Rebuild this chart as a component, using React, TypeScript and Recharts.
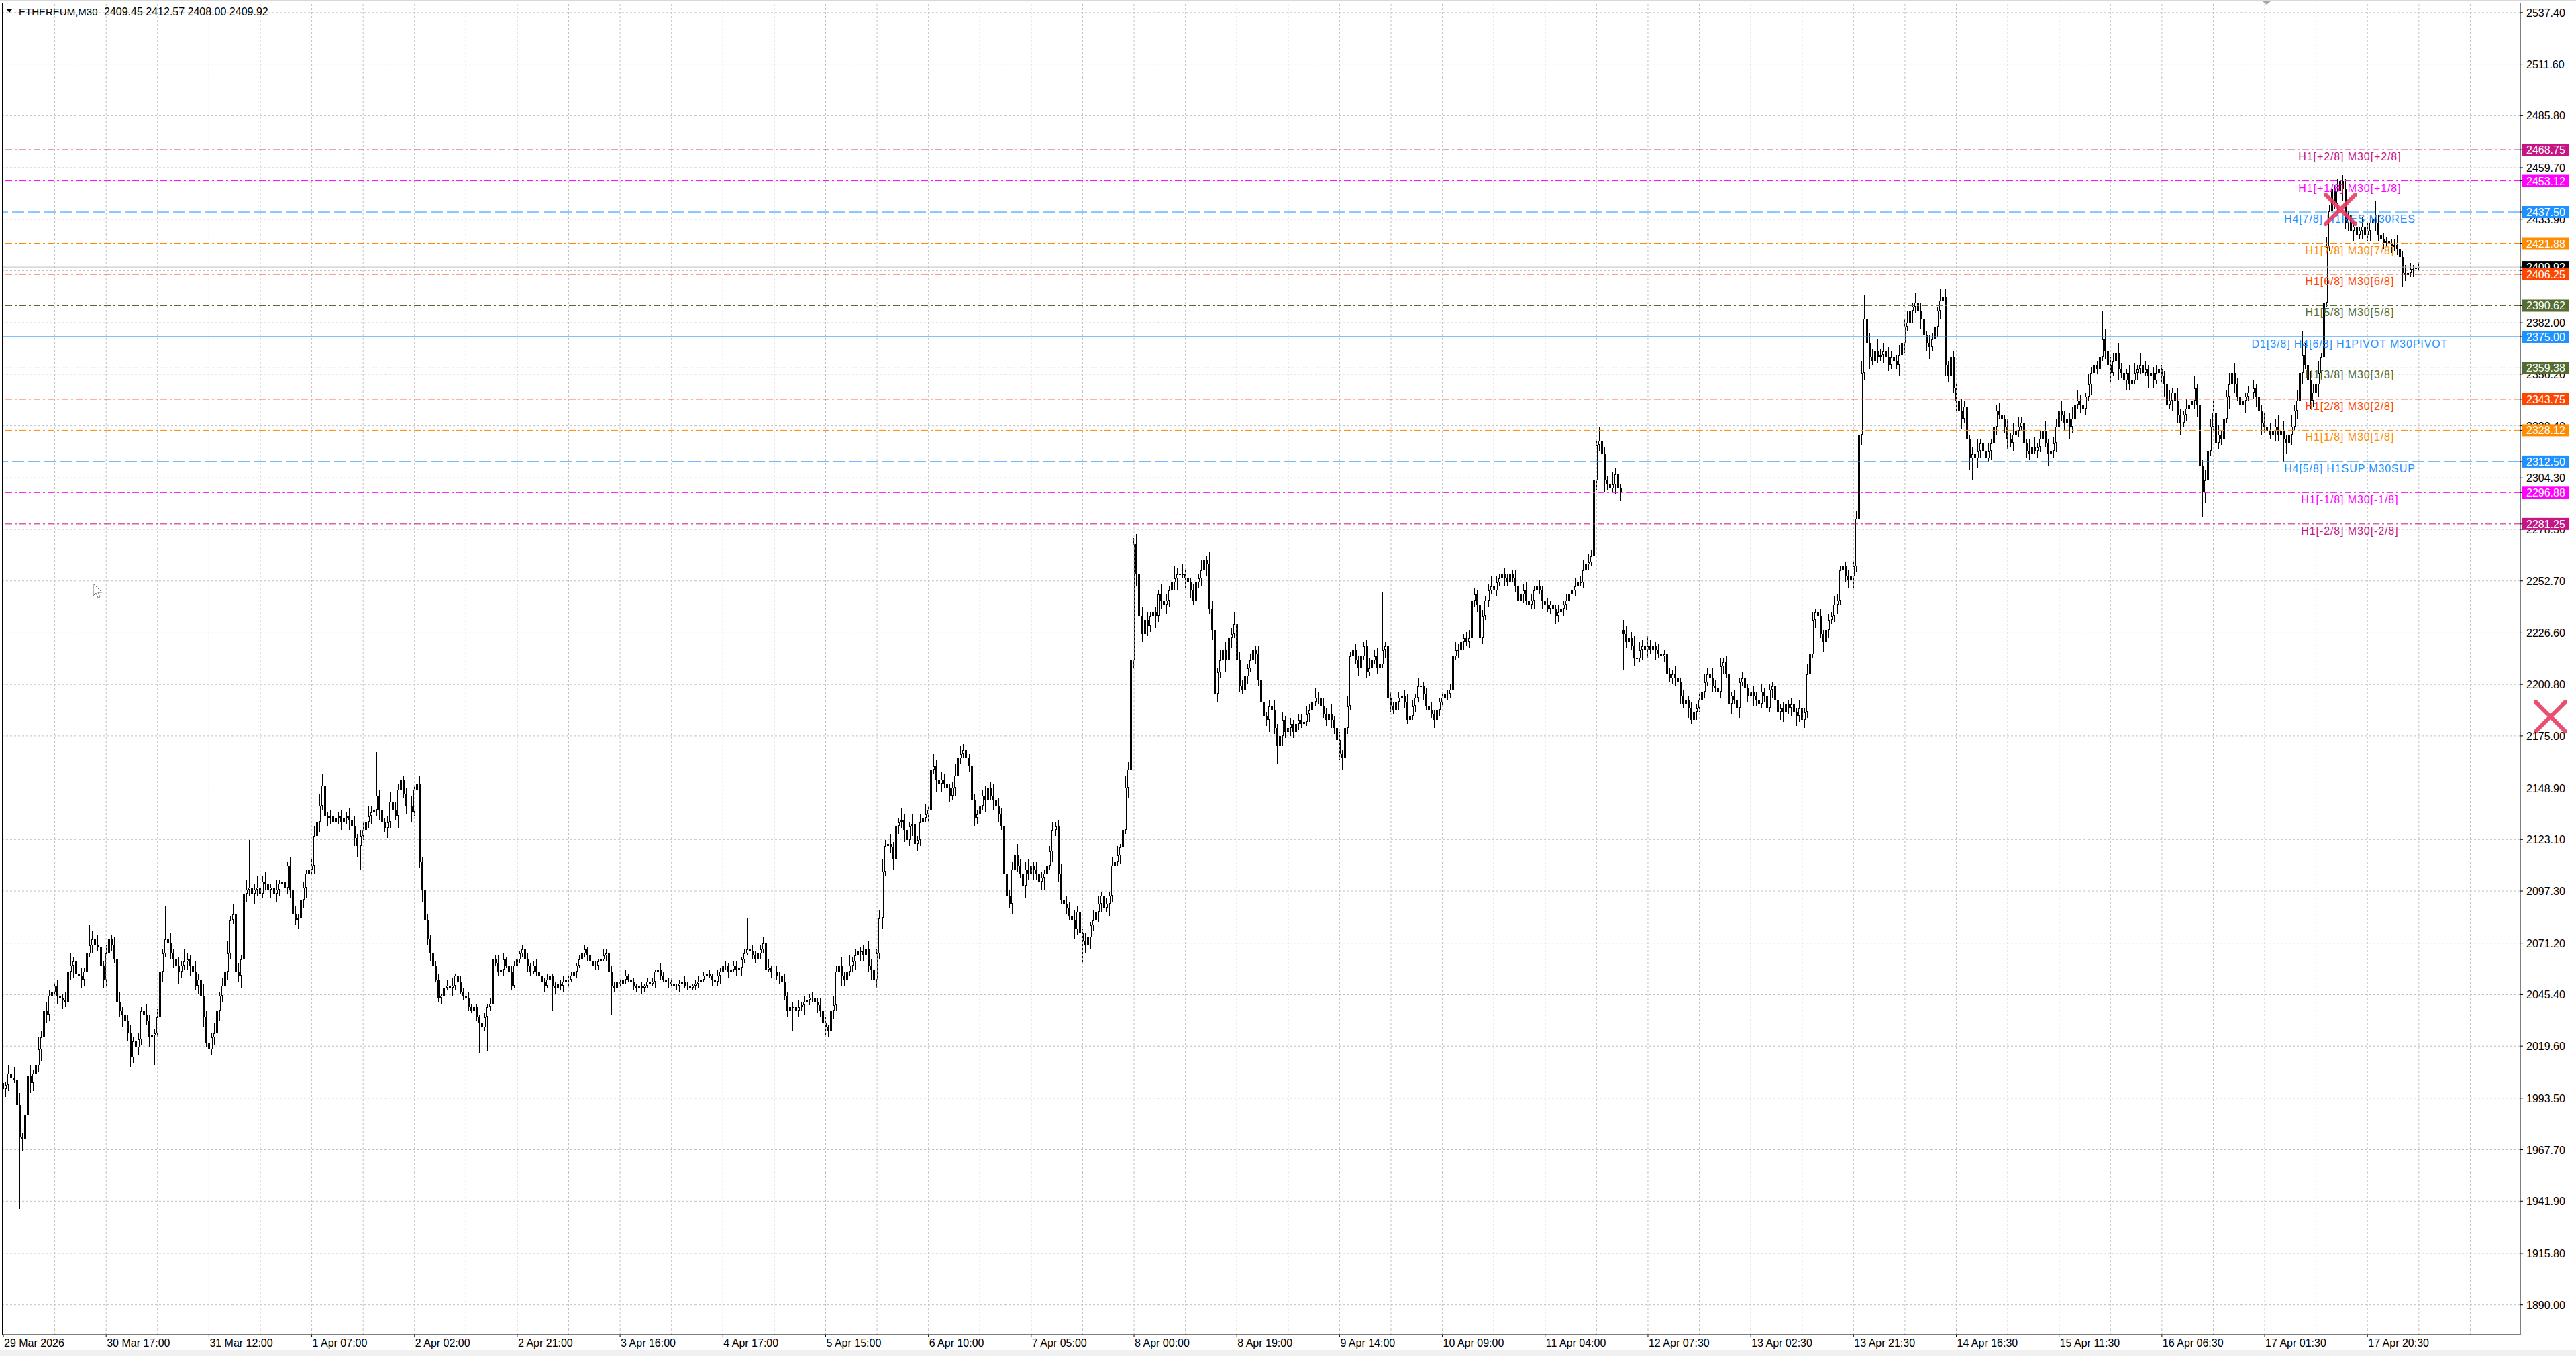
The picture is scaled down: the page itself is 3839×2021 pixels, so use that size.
import React from "react";
import {
  Bar,
  CartesianGrid,
  ComposedChart,
  ReferenceDot,
  ReferenceLine,
  XAxis,
  YAxis,
} from "recharts";

const FONT = "'Liberation Sans', Arial, sans-serif";
const W = 3839;
const H = 2021;
// 894 bars, the rest of the slots are the empty chart shift on the right
const SLOTS = 931;

// closes, one per M30 bar (29 Mar 22:00 .. 4 Apr)
const closesPart1 = [
  1998, 2000, 2006, 2004, 2003, 1990, 1974, 1973, 1985, 2005, 2001, 2006, 2010, 2018, 2024, 2037, 2035, 2045, 2047, 2050,
  2045, 2044, 2043, 2042, 2057, 2060, 2062, 2056, 2055, 2053, 2057, 2066, 2070, 2073, 2070, 2069, 2060, 2053, 2066, 2073,
  2070, 2063, 2042, 2037, 2035, 2032, 2026, 2014, 2022, 2019, 2023, 2037, 2035, 2032, 2024, 2025, 2026, 2034, 2057, 2066,
  2073, 2071, 2066, 2063, 2060, 2057, 2060, 2062, 2063, 2060, 2057, 2050, 2053, 2045, 2034, 2021, 2018, 2024, 2026, 2037,
  2045, 2050, 2057, 2066, 2083, 2086, 2057, 2055, 2063, 2096, 2098, 2099, 2096, 2098, 2099, 2096, 2102, 2101, 2098, 2099,
  2096, 2098, 2101, 2102, 2099, 2110, 2098, 2086, 2083, 2084, 2093, 2099, 2106, 2108, 2110, 2125, 2132, 2140, 2150, 2135,
  2134, 2135, 2132, 2134, 2135, 2132, 2134, 2135, 2133, 2130, 2124, 2120, 2125, 2128, 2132, 2135, 2137, 2138, 2145, 2138,
  2132, 2129, 2132, 2142, 2138, 2135, 2148, 2153, 2146, 2140, 2140, 2137, 2148, 2151, 2112, 2098, 2083, 2073, 2066, 2060,
  2053, 2044, 2045, 2049, 2050, 2049, 2050, 2055, 2052, 2047, 2045, 2044, 2039, 2037, 2039, 2034, 2031, 2029, 2034, 2039,
  2041, 2063, 2061, 2057, 2058, 2063, 2060, 2057, 2050, 2060, 2063, 2066, 2068, 2063, 2060, 2057, 2060, 2057, 2055, 2052,
  2050, 2053, 2055, 2050, 2049, 2051, 2050, 2052, 2053, 2053, 2055, 2057, 2060, 2063, 2066, 2068, 2065, 2062, 2060, 2060,
  2062, 2063, 2065, 2066, 2057, 2050, 2049, 2052, 2051, 2053, 2055, 2053, 2052, 2050, 2049, 2050, 2049, 2050, 2052, 2051,
  2052, 2057, 2058, 2055, 2053, 2052, 2052, 2051, 2050, 2050, 2051, 2052, 2050, 2050, 2049, 2050, 2051, 2052, 2053, 2055,
  2056, 2055, 2053, 2052, 2055, 2057, 2060, 2060, 2057, 2058, 2060, 2058, 2059, 2063, 2066, 2068, 2067, 2065, 2063, 2066,
  2068, 2071, 2058, 2059, 2057, 2057, 2055, 2055, 2052, 2045, 2037, 2039, 2039, 2037, 2039, 2040, 2042, 2043, 2044, 2044,
  2042, 2040, 2037, 2031, 2029, 2027, 2037, 2040, 2057, 2060, 2055, 2053, 2057, 2060, 2062, 2065, 2067, 2067, 2065, 2068,
  2060, 2058, 2053, 2066, 2084, 2107, 2120,
];

// 5 Apr .. 11 Apr
const closesPart2 = [
  2121, 2119, 2113, 2130, 2132, 2133, 2128, 2123, 2130, 2131, 2121, 2123, 2132, 2134, 2136, 2138, 2158, 2160, 2153, 2151,
  2153, 2151, 2149, 2145, 2149, 2155, 2164, 2166, 2168, 2164, 2160, 2143, 2134, 2136, 2140, 2145, 2143, 2149, 2145, 2143,
  2140, 2136, 2130, 2106, 2095, 2091, 2108, 2115, 2110, 2106, 2100, 2108, 2106, 2110, 2108, 2106, 2102, 2104, 2106, 2110,
  2117, 2128, 2130, 2106, 2093, 2091, 2089, 2085, 2083, 2078, 2087, 2076, 2072, 2070, 2074, 2080, 2083, 2087, 2091, 2095,
  2089, 2091, 2095, 2110, 2112, 2115, 2119, 2128, 2149, 2158, 2213, 2271, 2256, 2235, 2226, 2233, 2230, 2235, 2237, 2235,
  2246, 2243, 2241, 2243, 2248, 2252, 2254, 2256, 2256, 2256, 2254, 2252, 2248, 2243, 2252, 2254, 2258, 2263, 2261, 2239,
  2228, 2196, 2207, 2213, 2218, 2213, 2224, 2226, 2231, 2213, 2200, 2198, 2205, 2209, 2213, 2218, 2216, 2203, 2192, 2185,
  2183, 2190, 2188, 2179, 2170, 2175, 2183, 2177, 2179, 2181, 2177, 2181, 2183, 2181, 2182, 2186, 2188, 2192, 2194, 2194,
  2190, 2186, 2183, 2186, 2183, 2179, 2173, 2166, 2164, 2179, 2190, 2215, 2218, 2213, 2209, 2215, 2220, 2207, 2209, 2213,
  2215, 2209, 2211, 2218, 2220, 2194, 2190, 2188, 2192, 2194, 2195, 2192, 2183, 2185, 2190, 2194, 2200, 2200, 2196, 2190,
  2188, 2186, 2183, 2188, 2192, 2194, 2196, 2196, 2198, 2215, 2218, 2218, 2222, 2224, 2222, 2224, 2243, 2246, 2241, 2224,
  2235, 2243, 2248, 2250, 2248, 2252, 2254, 2256, 2254, 2252, 2256, 2254, 2250, 2243, 2246, 2248, 2243, 2241, 2243, 2248,
  2250, 2248, 2243, 2241, 2239, 2241, 2239, 2235, 2237, 2239, 2241, 2243, 2246, 2248, 2250, 2252, 2252, 2258, 2261, 2262,
  2265, 2303, 2321, 2323, 2316, 2303, 2301, 2299, 2301, 2306, 2299, 2297,
];

// 12 Apr 07:30 .. 18 Apr (after the weekend gap)
const closesPart3 = [
  2226, 2222, 2224, 2220, 2214, 2214, 2218, 2220, 2218, 2220, 2218, 2220, 2218, 2216, 2215, 2216, 2206, 2204, 2206, 2204,
  2202, 2195, 2191, 2193, 2189, 2183, 2187, 2189, 2193, 2197, 2202, 2206, 2204, 2200, 2199, 2197, 2210, 2212, 2206, 2191,
  2195, 2193, 2189, 2202, 2204, 2199, 2195, 2197, 2195, 2193, 2191, 2197, 2195, 2189, 2198, 2200, 2193, 2187, 2189, 2187,
  2191, 2189, 2191, 2187, 2185, 2189, 2183, 2187, 2206, 2216, 2233, 2237, 2235, 2226, 2222, 2228, 2233, 2235, 2241, 2243,
  2258, 2260, 2255, 2253, 2255, 2260, 2284, 2326, 2357, 2384, 2372, 2365, 2363, 2368, 2365, 2366, 2368, 2365, 2361, 2365,
  2363, 2361, 2366, 2372, 2380, 2382, 2388, 2390, 2392, 2388, 2384, 2376, 2372, 2370, 2374, 2380, 2388, 2393, 2395, 2361,
  2355, 2365, 2349, 2343, 2338, 2334, 2340, 2324, 2314, 2316, 2314, 2318, 2322, 2318, 2314, 2318, 2322, 2330, 2338, 2336,
  2334, 2330, 2324, 2322, 2326, 2328, 2330, 2332, 2322, 2318, 2316, 2320, 2318, 2320, 2324, 2328, 2322, 2316, 2318, 2322,
  2330, 2338, 2336, 2332, 2334, 2330, 2334, 2341, 2343, 2341, 2339, 2345, 2351, 2357, 2361, 2359, 2365, 2374, 2368, 2361,
  2357, 2363, 2367, 2359, 2357, 2353, 2357, 2351, 2353, 2357, 2359, 2361, 2357, 2359, 2355, 2357, 2353, 2357, 2359, 2355,
  2351, 2341, 2343, 2347, 2343, 2336, 2332, 2336, 2339, 2341, 2343, 2349, 2341, 2310, 2297, 2303, 2318, 2330, 2337, 2322,
  2326, 2324, 2334, 2345, 2351, 2357, 2351, 2345, 2341, 2343, 2345, 2347, 2347, 2349, 2345, 2338, 2332, 2330, 2328, 2326,
  2328, 2330, 2326, 2328, 2324, 2322, 2326, 2330, 2338, 2343, 2357, 2366, 2361, 2353, 2343, 2347, 2351, 2357, 2365, 2392,
  2420, 2438, 2449, 2442, 2448, 2453, 2449, 2432, 2436, 2428, 2430, 2426, 2428, 2430, 2426, 2428, 2432, 2434, 2432, 2426,
  2424, 2422, 2423, 2422, 2420, 2421, 2419, 2415, 2407, 2406, 2407, 2409, 2409, 2409.45, 2409.92,
];

// upper / lower wick lengths (price units) per bar
const wickHi = [
  3,2,4,2,5,3,6,2,4,3,5,2,4,6,3,2,5,3,4,2, 3,5,2,4,3,6,2,3,5,4,2,3,6,4,2,5,3,2,4,3,
  2,4,3,5,2,6,3,4,2,5,3,2,4,6,3,5,2,4,3,2, 4,3,5,2,3,4,2,6,3,2,4,5,3,2,6,3,4,2,5,3,
  2,4,3,6,2,5,3,4,2,3,5,2,4,3,6,2,3,5,4,2, 3,5,2,4,3,2,6,3,4,2,5,3,2,4,3,5,2,6,3,4,
  2,3,5,4,2,3,6,2,4,3,5,2,3,4,2,5,3,6,2,3, 4,2,3,5,2,4,3,6,2,3,4,5,2,3,4,2,5,3,2,4,
  2,3,1,2,3,2,4,1,2,3,2,1,3,2,4,2,1,3,2,2, 3,1,2,4,2,3,1,2,3,2,4,1,2,2,3,1,2,3,2,1,
  2,3,2,1,2,4,2,3,1,2,2,3,1,2,3,2,1,2,4,2, 1,2,3,2,1,3,2,2,1,2,3,1,2,2,1,3,2,1,2,3,
  2,1,2,3,2,1,2,2,3,1,2,1,3,2,2,1,2,3,1,2, 3,2,1,2,3,2,4,2,1,3,2,2,3,1,2,4,2,3,2,1,
  2,3,2,4,1,2,3,2,3,4,2,1,3,2,4,2,3,1,2,3, 3,2,4,2,3,1,2,5,3,2,4,2,3,5,2,3,4,2,3,2,
  4,3,5,2,4,6,3,2,5,3,4,2,6,3,4,2,5,3,2,4, 3,5,2,4,6,3,2,4,3,5,2,3,6,2,4,3,5,2,4,3,
  2,4,3,5,2,3,6,2,4,3,2,5,3,4,2,6,3,2,4,5, 3,2,4,5,3,2,6,3,4,2,3,5,2,4,3,2,5,3,6,2,
  4,3,2,5,3,4,2,6,3,2,4,3,5,2,3,6,4,2,3,5, 2,5,3,4,2,6,3,2,5,4,3,2,4,6,3,2,5,3,4,2,
  3,4,2,5,3,2,6,4,3,2,5,3,4,2,3,6,2,4,3,5, 2,3,5,2,4,3,6,2,3,4,5,2,3,4,2,5,3,2,4,3,
  3,2,4,3,2,5,3,2,4,3,2,5,2,3,4,2,3,5,2,4, 3,2,4,2,3,5,2,3,4,2,3,2,5,3,2,4,3,2,3,4,
  2,3,2,4,3,2,3,2,4,2,3,2,3,4,2,3,2,4,3,2, 2,3,4,2,3,2,4,3,2,3,5,2,3,2,4,3,2,3,2,4,
  3,2,3,4,2,3,2,5,3,2,4,3,2,3,2,4,3,2,3,2, 3,4,2,3,5,2,4,3,6,2,3,5,4,2,3,6,3,4,2,5,
  4,2,3,5,2,4,3,2,5,3,4,2,3,5,2,4,3,2,4,3, 2,3,4,2,3,5,2,3,2,4,3,2,5,3,2,4,2,3,5,2,
  3,4,2,3,5,2,4,3,2,3,4,2,5,3,2,4,3,2,3,4, 2,3,5,2,4,3,2,5,3,4,2,3,4,2,5,3,2,4,3,2,
  4,2,3,5,2,4,3,6,2,3,5,4,2,6,3,4,2,5,3,4, 3,5,2,4,6,3,2,5,3,4,6,2,4,3,5,2,6,3,4,2,
  5,3,2,4,6,3,5,2,4,3,6,2,3,5,4,2,6,3,4,5, 2,4,3,6,2,5,3,4,2,6,3,5,2,4,3,5,2,6,3,4,
  3,5,2,4,3,6,2,5,3,4,2,5,3,6,2,4,3,5,2,4, 4,2,5,3,6,2,4,3,5,2,6,3,4,2,5,3,4,6,2,3,
  3,5,2,4,6,3,2,5,4,3,6,2,4,3,5,2,4,6,3,5, 2,4,3,6,2,5,3,4,6,2,3,5,4,2,6,3,5,2,4,3,
  4,6,3,5,2,4,6,3,5,4,2,6,3,5,4,3,6,2,4,5, 3,5,2,6,4,3,5,2,4,3,6,2,5,3,4,2,5,3,4,2,
  3,2,4,2,3,5,2,3,4,2,3,2,3,3,
];

const wickLo = [
  2,4,3,5,2,3,4,6,2,3,5,4,2,3,6,2,4,3,5,2, 4,2,5,3,2,4,6,3,2,4,3,5,2,4,3,2,6,4,3,5,
  3,2,4,3,6,2,4,5,3,2,4,3,6,2,5,3,4,2,3,5, 2,5,3,4,2,6,3,2,4,5,3,2,4,3,5,2,6,3,4,2,
  5,3,2,4,3,2,5,3,6,2,4,3,2,5,3,4,2,3,6,4, 2,4,3,2,5,3,4,2,3,6,2,4,5,3,2,4,3,5,2,3,
  4,3,2,5,3,4,2,3,5,2,4,6,3,2,5,3,4,2,3,5, 3,2,5,3,4,2,6,3,2,4,3,5,2,4,3,6,2,3,4,2,
  1,2,3,2,1,2,4,2,3,1,2,3,2,1,3,2,4,1,2,3, 2,3,1,2,2,3,1,4,2,1,3,2,2,1,3,2,1,2,3,2,
  3,1,2,2,3,1,2,3,2,4,1,2,3,1,2,2,3,1,2,2, 2,2,1,3,2,1,2,3,1,2,2,1,3,2,2,1,3,2,1,2,
  1,3,2,2,1,2,3,1,2,2,3,2,1,2,3,1,2,2,3,1, 2,1,3,2,2,4,1,2,3,2,1,3,2,4,2,1,3,2,2,3,
  3,2,4,1,3,2,2,4,3,2,3,1,4,2,3,2,5,2,3,2, 2,4,3,2,5,3,2,4,3,2,5,3,4,2,3,4,2,5,3,4,
  3,5,2,4,3,6,2,4,3,5,2,4,3,6,2,3,5,2,4,3, 5,2,4,3,2,6,3,4,2,5,3,2,4,5,3,2,6,3,2,4,
  3,4,2,6,3,2,5,3,4,2,6,3,2,5,4,3,2,4,6,3, 2,5,3,2,4,6,3,2,5,3,4,2,6,3,2,4,5,3,2,4,
  4,2,6,3,2,5,4,3,2,6,3,5,2,4,3,2,5,3,4,6, 3,4,2,5,3,2,6,3,4,2,5,3,2,4,6,3,2,5,3,4,
  2,5,3,4,2,6,3,5,2,4,3,2,6,3,5,2,4,3,2,5, 4,2,3,5,3,2,4,3,6,2,3,4,2,5,3,2,4,3,2,3,
  2,3,2,4,3,2,3,5,2,3,2,4,3,2,3,2,4,3,2,3, 2,4,3,2,3,2,4,2,3,3,2,4,2,3,2,3,4,2,3,2,
  3,2,3,2,4,3,2,3,2,4,2,3,2,4,3,2,3,2,4,3, 4,2,3,2,3,4,2,3,2,3,2,4,3,2,3,4,2,3,2,3,
  2,3,4,2,3,2,4,3,2,4,3,2,3,2,4,3,2,4,3,2, 4,3,5,2,3,6,3,2,4,5,3,2,6,3,4,2,5,3,4,2,
  3,5,2,4,3,2,5,3,4,2,3,5,2,4,3,5,2,3,4,2, 4,2,3,5,2,3,4,2,5,3,2,4,3,2,5,3,4,2,3,5,
  2,3,5,2,4,3,2,5,3,4,2,3,5,2,4,3,2,4,5,3, 3,4,2,5,3,2,4,3,5,2,4,3,2,5,3,4,2,3,5,2,
  5,3,4,2,6,3,2,5,4,3,6,2,5,3,2,4,6,3,2,5, 2,6,3,5,2,4,6,3,2,5,3,4,6,2,3,5,4,2,6,3,
  4,2,6,3,5,2,4,6,3,2,5,4,3,6,2,5,3,4,2,6, 3,5,2,4,6,3,2,5,4,3,6,2,4,3,5,2,6,3,4,5,
  5,3,4,2,6,3,5,2,4,6,3,2,5,4,3,6,2,4,3,5, 2,4,6,3,2,5,3,6,2,4,3,5,2,6,3,4,2,5,3,6,
  4,2,5,3,4,6,2,3,5,2,4,6,3,2,5,4,3,2,6,3, 3,5,2,6,3,4,2,5,3,6,2,4,3,5,2,6,3,4,2,5,
  5,3,4,2,6,3,5,2,4,3,6,2,5,4,3,2,6,3,5,2, 2,4,3,5,2,6,3,4,2,5,3,2,4,6,3,5,2,4,3,6,
  3,2,4,3,2,3,4,2,3,3,2,4,2,1,
];

// long wicks seen on the picture: [bar, price]
const highSpikes: [number, number][] = [
  [32, 2080], [60, 2090], [91, 2123], [106, 2114], [118, 2156], [138, 2167], [147, 2163],
  [275, 2084], [343, 2174], [418, 2274], [510, 2247], [590, 2330], [688, 2396], [717, 2419],
  [776, 2388], [781, 2382], [850, 2378], [861, 2460], [864, 2458], [877, 2443], [893, 2412.57],
];
const lowSpikes: [number, number][] = [
  [6, 1938], [48, 2011], [56, 2010], [76, 2011], [86, 2036], [109, 2078], [132, 2108],
  [176, 2016], [179, 2017], [203, 2037], [225, 2035], [292, 2027], [303, 2022], [399, 2061],
  [448, 2186], [471, 2161], [495, 2158], [599, 2208], [625, 2175], [728, 2303], [813, 2285],
  [843, 2312], [887, 2400], [893, 2408],
];
// bars that open away from the previous close (weekend gap)
const gapOpens: [number, number][] = [[0, 2001], [599, 2228]];

const priceTicks = [
  2537.4, 2511.6, 2485.8, 2459.7, 2433.9, 2408.1, 2382.0, 2356.2, 2330.4, 2304.3, 2278.5, 2252.7, 2226.6,
  2200.8, 2175.0, 2148.9, 2123.1, 2097.3, 2071.2, 2045.4, 2019.6, 1993.5, 1967.7, 1941.9, 1915.8, 1890.0,
];

const dateLabels = [
  "29 Mar 2026", "30 Mar 17:00", "31 Mar 12:00", "1 Apr 07:00", "2 Apr 02:00", "2 Apr 21:00",
  "3 Apr 16:00", "4 Apr 17:00", "5 Apr 15:00", "6 Apr 10:00", "7 Apr 05:00", "8 Apr 00:00",
  "8 Apr 19:00", "9 Apr 14:00", "10 Apr 09:00", "11 Apr 04:00", "12 Apr 07:30", "13 Apr 02:30",
  "13 Apr 21:30", "14 Apr 16:30", "15 Apr 11:30", "16 Apr 06:30", "17 Apr 01:30", "17 Apr 20:30",
];
const dateBars = [
  0, 38, 76, 114, 152, 190, 228, 266, 304, 342, 380, 418, 456, 494, 532, 570, 608, 646, 684, 722,
  760, 798, 836, 874,
];

// Murrey math levels
const levelPrices = [
  2468.75, 2453.12, 2437.5, 2421.88, 2406.25, 2390.62, 2375.0, 2359.38, 2343.75, 2328.12, 2312.5, 2296.88, 2281.25,
];
const levelNames = [
  "H1[+2/8] M30[+2/8]", "H1[+1/8] M30[+1/8]", "H4[7/8] H1RES M30RES", "H1[7/8] M30[7/8]",
  "H1[6/8] M30[6/8]", "H1[5/8] M30[5/8]", "D1[3/8] H4[6/8] H1PIVOT M30PIVOT", "H1[3/8] M30[3/8]",
  "H1[2/8] M30[2/8]", "H1[1/8] M30[1/8]", "H4[5/8] H1SUP M30SUP", "H1[-1/8] M30[-1/8]", "H1[-2/8] M30[-2/8]",
];
const levelColors = [
  "#C71585", "#FF00FF", "#1E90FF", "#FF8C00", "#FF4500", "#556B2F", "#1E90FF", "#556B2F",
  "#FF4500", "#FF8C00", "#1E90FF", "#FF00FF", "#C71585",
];
const levelStyles = [
  "dashdot", "dashdot", "dash", "dashdot", "dashdot", "dashdot", "solid", "dashdot",
  "dashdot", "dashdot", "dash", "dashdot", "dashdot",
];
const DASHES: Record<string, string | undefined> = {
  dashdot: "10 4 3 4",
  dash: "18 6",
  solid: undefined,
};

const lastPrice = 2409.92;
const ohlcTitle = "2409.45 2412.57 2408.00 2409.92";

const closes = [...closesPart1, ...closesPart2, ...closesPart3];
const highMap = new Map(highSpikes);
const lowMap = new Map(lowSpikes);
const openMap = new Map(gapOpens);

const rows: any[] = [];
for (let i = 0; i < SLOTS; i++) {
  if (i >= closes.length) {
    rows.push({ i, range: null });
    continue;
  }
  const close = closes[i];
  const open = openMap.get(i) ?? closes[i - 1];
  let high = Math.max(open, close) + wickHi[i];
  let low = Math.min(open, close) - wickLo[i];
  if (highMap.has(i)) high = Math.max(highMap.get(i)!, Math.max(open, close));
  if (lowMap.has(i)) low = Math.min(lowMap.get(i)!, Math.min(open, close));
  rows.push({ i, open, close, high, low, range: [low, high] });
}

const gridBars = Array.from({ length: 48 }, (_, k) => (k + 1) * 19);
// axis ticks: plain prices first, then the price boxes on top of them
const axisTicks = [...priceTicks, lastPrice, ...levelPrices];

function Candle(props: any) {
  const { x, y, width, height, payload } = props;
  if (!payload || !payload.range) return null;
  const [lo, hi] = payload.range;
  const top = Math.min(y, y + height);
  const h = Math.abs(height);
  const span = hi - lo;
  const py = (v: number) => (span > 0 ? top + ((hi - v) / span) * h : top);
  const cx = Math.floor(x + width / 2) + 0.5;
  const yo = py(payload.open);
  const yc = py(payload.close);
  const bTop = Math.round(Math.min(yo, yc));
  const bBot = Math.round(Math.max(yo, yc));
  const bull = payload.close >= payload.open;
  return (
    <g shapeRendering="crispEdges">
      <line x1={cx} x2={cx} y1={Math.round(top)} y2={Math.round(top + h)} stroke="#000" strokeWidth={1} />
      {bBot - bTop < 2 ? (
        <rect x={cx - 1.5} y={bTop} width={3} height={1} fill="#000" />
      ) : bull ? (
        <rect x={cx - 1} y={bTop + 0.5} width={2} height={bBot - bTop - 1} fill="#fff" stroke="#000" strokeWidth={1} />
      ) : (
        <rect x={cx - 1.5} y={bTop} width={3} height={bBot - bTop} fill="#000" />
      )}
    </g>
  );
}

function DateTick(props: any) {
  const { x, y, payload } = props;
  const k = dateBars.indexOf(payload?.value);
  if (k < 0) return null;
  return (
    <text x={x + 1} y={y} dy={12} fontSize={16} fontFamily={FONT} fill="#000">
      {dateLabels[k]}
    </text>
  );
}

function PriceTick(props: any) {
  const { x, y, payload } = props;
  const v = Number(payload.value);
  const k = levelPrices.indexOf(v);
  const boxColor = v === lastPrice ? "#000" : k >= 0 ? levelColors[k] : null;
  if (boxColor) {
    return (
      <g>
        <rect x={x - 7} y={y - 9} width={71} height={18} fill={boxColor} />
        <text x={x} y={y} dy={6} fontSize={16} fontFamily={FONT} fill="#fff">
          {v.toFixed(2)}
        </text>
      </g>
    );
  }
  return (
    <text x={x} y={y} dy={6} fontSize={16} fontFamily={FONT} fill="#000">
      {v.toFixed(2)}
    </text>
  );
}

// line caption inside the plot
function LevelCaption(props: any) {
  const { viewBox, name, color } = props;
  if (!viewBox) return null;
  const { x, y, width } = viewBox;
  return (
    <text
      x={x + width * 0.9323}
      y={y + 16}
      textAnchor="middle"
      fill={color}
      fontFamily={FONT}
      fontSize={16}
      letterSpacing={0.9}
    >
      {name}
    </text>
  );
}

function Cross({ cx, cy }: { cx: number; cy: number }) {
  const r = 22;
  return (
    <g stroke="#EC3A62" strokeWidth={6} strokeLinecap="round" opacity={0.9}>
      <line x1={cx - r} y1={cy - r} x2={cx + r} y2={cy + r} />
      <line x1={cx - r} y1={cy + r} x2={cx + r} y2={cy - r} />
    </g>
  );
}

function AxisCross(props: any) {
  const { viewBox } = props;
  if (!viewBox) return null;
  return <Cross cx={viewBox.x + viewBox.width + 45} cy={viewBox.y} />;
}

export default function App() {
  return (
    <div style={{ position: "absolute", left: 0, top: 0, width: W, height: H, background: "#fff" }}>
      <ComposedChart
        width={W}
        height={H}
        data={rows}
        margin={{ top: 4, right: 0, bottom: 0, left: 3 }}
        barCategoryGap="10%"
      >
        <CartesianGrid vertical={false} horizontalValues={priceTicks} stroke="#C0C0C0" strokeDasharray="3 3" />
        {gridBars.map((b) => (
          <ReferenceLine key={`vg${b}`} x={b} stroke="#C0C0C0" strokeDasharray="3 3" />
        ))}
        <XAxis
          dataKey="i"
          type="category"
          ticks={dateBars}
          interval={0}
          height={32}
          tickSize={4}
          tickMargin={2}
          axisLine={{ stroke: "#000" }}
          tickLine={{ stroke: "#000" }}
          tick={<DateTick />}
        />
        <YAxis
          orientation="right"
          type="number"
          domain={[1875.1, 2542.4]}
          allowDataOverflow
          ticks={axisTicks}
          interval={0}
          width={83}
          tickSize={4}
          tickMargin={5}
          axisLine={{ stroke: "#000" }}
          tickLine={{ stroke: "#000" }}
          tick={<PriceTick />}
        />
        <Bar dataKey="range" isAnimationActive={false} shape={(p: any) => <Candle {...p} />} />
        <ReferenceLine y={lastPrice} stroke="#C0C0C0" strokeWidth={1} />
        {levelPrices.map((v, k) => (
          <ReferenceLine
            key={`lv${k}`}
            y={v}
            stroke={levelColors[k]}
            strokeWidth={1}
            strokeDasharray={DASHES[levelStyles[k]]}
            label={<LevelCaption name={levelNames[k]} color={levelColors[k]} />}
          />
        ))}
        <ReferenceDot x={864} y={2438.8} r={24} shape={(p: any) => <Cross cx={p.cx} cy={p.cy} />} />
        <ReferenceLine y={2184.7} stroke="none" label={<AxisCross />} />
      </ComposedChart>
      <svg
        width={W}
        height={H}
        style={{ position: "absolute", left: 0, top: 0, pointerEvents: "none" }}
      >
        <rect x={0} y={0} width={W} height={2} fill="#D8D8D8" />
        <rect x={0} y={2012} width={W} height={9} fill="#F0F0F0" />
        <line x1={3} y1={4.5} x2={3756} y2={4.5} stroke="#000" />
        <line x1={3.5} y1={4} x2={3.5} y2={1989} stroke="#000" />
        <polygon points="10,14 18,14 14,19" fill="#000" />
        <text x={28} y={23} fontFamily={FONT} fontSize={15} fill="#000">
          ETHEREUM,M30
        </text>
        <text x={155} y={23} fontFamily={FONT} fontSize={16} fill="#000">
          {ohlcTitle}
        </text>
        <polygon points="3372,2 3384,2 3378,7" fill="#A8A8A8" />
        <path d="M139,870 L139,888 L143,884 L146,891 L149,890 L146,883 L152,883 Z" fill="#fff" stroke="#777" strokeWidth={1} />
      </svg>
    </div>
  );
}
